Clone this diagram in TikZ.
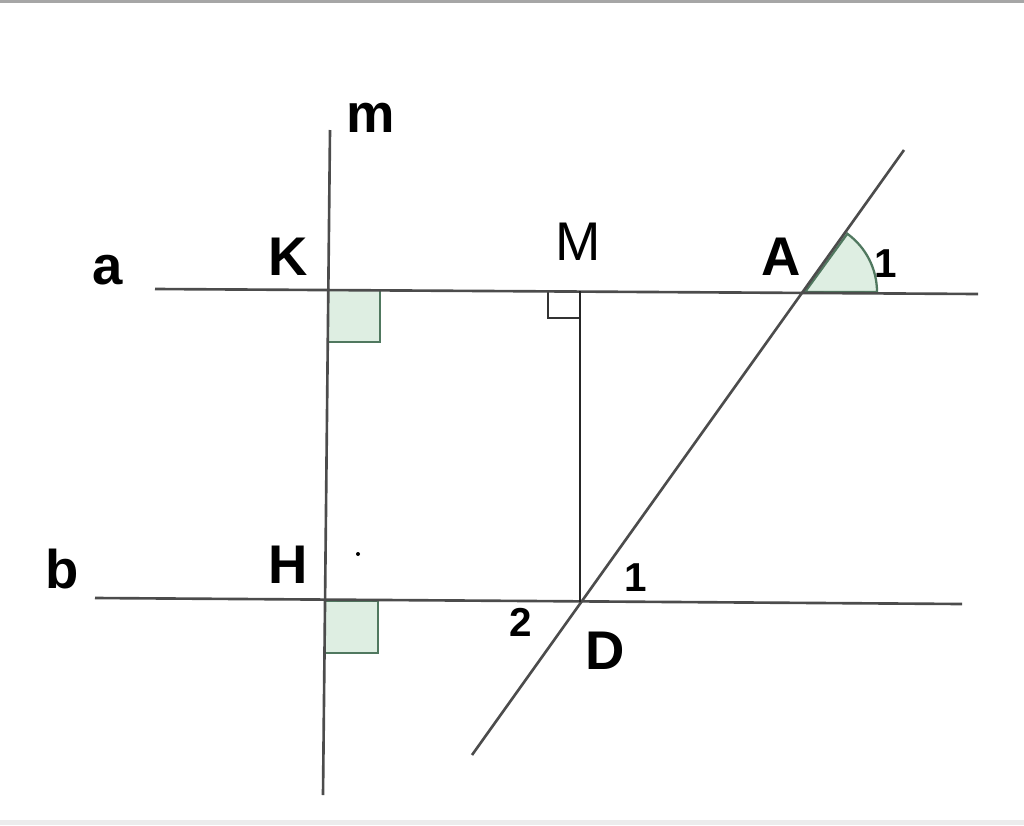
\documentclass[tikz,border=0pt]{standalone}
\usepackage{fontspec}
\setmainfont{Liberation Sans}
\usetikzlibrary{calc}
\definecolor{anglegreen}{RGB}{222,238,226}
\definecolor{anglerim}{RGB}{80,120,95}
\begin{document}
\begin{tikzpicture}[x=0.02cm,y=-0.02cm,
                    line/.style={draw,line width=1.5pt,black!70},
                    lbl/.style={font=\bfseries\fontsize{31}{31}\selectfont,inner sep=0pt},
                    num/.style={font=\bfseries\fontsize{23}{23}\selectfont,inner sep=0pt},
                    rightmark/.style={draw=anglerim,fill=anglegreen,line width=1.3pt}]
  \useasboundingbox (0,0) rectangle (1024,825);
  \fill[gray!70] (0,0) rectangle (1024,3);
  \fill[gray!15] (0,820) rectangle (1024,825);

  % points
  \coordinate (K) at (328,290);
  \coordinate (H) at (325,601);
  \coordinate (M) at (580,291);
  \coordinate (D) at (580,602);
  \coordinate (A) at (805,292);

  % marks under the lines
  \path[rightmark] (K) rectangle ++(52,52);
  \path[rightmark] (H) rectangle ++(53,52);
  \path[rightmark] (A) -- ++(72,0) arc[start angle=0,end angle=-54,radius=72] -- cycle;
  \draw[line width=1.3pt,black!80] (548,291) -- (548,318) -- (M |- 0,318);

  % lines
  \coordinate (m1) at (330,130);
  \coordinate (m2) at (323,795);
  \coordinate (a1) at (155,289);
  \coordinate (a2) at (978,294);
  \coordinate (b1) at (95,598);
  \coordinate (b2) at (962,604);
  \coordinate (t1) at (904,150);
  \coordinate (t2) at (472,755);
  \draw[line] (m1) -- (m2);
  \draw[line] (a1) -- (a2);
  \draw[line] (b1) -- (b2);
  \draw[line] (t1) -- (t2);
  \draw[line,black!85] (M) -- (D);

  % labels
  \node[lbl] (lm) at (371,118) {m};
  \node[lbl] (la) at (108,270) {a};
  \node[lbl] (lK) at (288,257) {K};
  \node[inner sep=0pt,font=\fontsize{31}{31}\selectfont] (lM) at (578,242) {M};
  \node[lbl] (lA) at (781,257) {A};
  \node[num] (n1) at (886,264) {1};
  \node[lbl] (lb) at (62,569) {b};
  \node[lbl] (lH) at (288,565) {H};
  \fill (358,554) circle (2);
  \node[num] (d1) at (636,578) {1};
  \node[num] (d2) at (521,622) {2};
  \node[lbl] (lD) at (605,651) {D};
\end{tikzpicture}
\end{document}
